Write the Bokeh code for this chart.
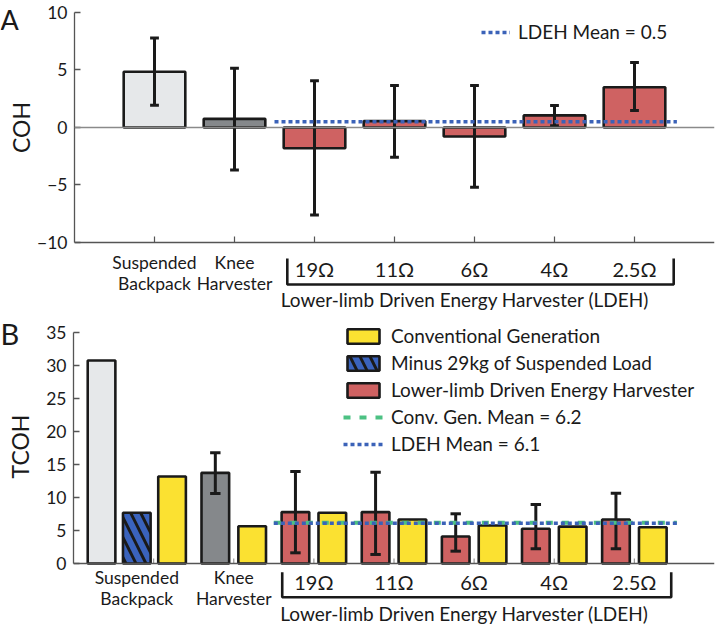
import numpy as np
from bokeh.plotting import figure
from bokeh.layouts import column, row
from bokeh.models import Range1d, FixedTicker, Legend, LegendItem, Span
from bokeh.core.properties import value
from bokeh.embed import file_html
from bokeh.resources import INLINE

# ---------------------------------------------------------------- data
categories = ["Suspended Backpack", "Knee Harvester", "19Ω", "11Ω", "6Ω", "4Ω", "2.5Ω"]
cat_line1 = ["Suspended", "Knee"]
cat_line2 = ["Backpack", "Harvester"]
resistances = ["19Ω", "11Ω", "6Ω", "4Ω", "2.5Ω"]
group_label = "Lower-limb Driven Energy Harvester (LDEH)"

# Panel A: cost of harvesting (COH), mean with error-bar ends
coh_mean = [4.85, 0.75, -1.8, 0.55, -0.78, 1.05, 3.5]
coh_err_lo = [1.94, -3.7, -7.6, -2.58, -5.19, 0.15, 1.48]
coh_err_hi = [7.77, 5.16, 4.06, 3.65, 3.65, 1.91, 5.65]
coh_ldeh_mean = 0.5

# Panel B: total cost of harvesting (TCOH)
tcoh_backpack = 30.8
tcoh_backpack_minus29 = 7.7
tcoh_backpack_conv = 13.2
tcoh_knee = 13.75
tcoh_knee_err = [10.6, 16.8]
tcoh_knee_conv = 5.66
tcoh_ldeh = [7.8, 7.8, 4.1, 5.26, 6.68]
tcoh_ldeh_err_lo = [1.62, 1.37, 1.87, 2.23, 2.23]
tcoh_ldeh_err_hi = [13.96, 13.85, 7.54, 8.95, 10.67]
tcoh_ldeh_conv = [7.7, 6.68, 5.77, 5.6, 5.5]
tcoh_conv_mean = 6.2
tcoh_ldeh_mean = 6.1

# ---------------------------------------------------------------- style
FONT = "Lato"
LIGHT = "#e6e8ea"
GRAY = "#85888b"
RED = "#cf6262"
YELLOW = "#fbe131"
BLUE = "#3a63bd"
GREEN = "#4cc183"
DOT_BLUE = "#3b62b8"
AXIS = "#555555"
INK = "#1a1a1a"

W = 727
SIDE_W = 34            # strip holding the panel letter and the axis title
LEFT, RIGHT = 39, 13   # borders of the plotting figures
H_A, H_B = 311, 314

cat_x = np.arange(1, len(categories) + 1, dtype=float)
ldeh_x = cat_x[2:]
MEAN_SPAN = (2.5, 7.53)
BRACKET_A = (2.66, 7.49, -11.4, -13.65)
BRACKET_B = (2.605, 7.46, -1.32, -5.11)


def side_strip(h, letter, letter_y, letter_size, title, title_x, title_y):
    s = figure(width=SIDE_W, height=h, x_range=Range1d(0, SIDE_W), y_range=Range1d(0, h),
               output_backend="svg", toolbar_location=None,
               x_axis_location=None, y_axis_location=None,
               min_border_left=0, min_border_right=0, min_border_top=0, min_border_bottom=0)
    s.outline_line_color = None
    s.grid.visible = False
    s.text(x=[0], y=[h - letter_y], text=[letter], text_font=value(FONT),
           text_font_size=letter_size, text_align="left", text_baseline="alphabetic",
           text_color=INK)
    s.text(x=[title_x], y=[h - title_y], text=[title], text_font=value(FONT),
           text_font_size="23px", text_align="center", text_baseline="middle",
           text_line_height=1.0, angle=np.pi / 2, text_color=INK)
    return s


def make_fig(h, y0, y1, ticks):
    p = figure(width=W - SIDE_W, height=h, x_range=Range1d(0, 8), y_range=Range1d(y0, y1),
               output_backend="svg", toolbar_location=None, x_axis_location=None,
               min_border_left=LEFT, min_border_right=RIGHT,
               min_border_top=0, min_border_bottom=0)
    p.outline_line_color = None
    p.grid.visible = False
    ax = p.yaxis[0]
    ax.ticker = FixedTicker(ticks=ticks)
    ax.bounds = (min(ticks), max(ticks))
    ax.major_label_overrides = {t: ("\u2212%d" % -t if t < 0 else str(t)) for t in ticks}
    ax.major_tick_in = 6
    ax.major_tick_out = 0
    ax.minor_tick_line_color = None
    ax.axis_line_color = AXIS
    ax.axis_line_width = 1.3
    ax.major_tick_line_color = AXIS
    ax.major_tick_line_width = 1.3
    ax.major_label_standoff = 7
    ax.major_label_text_font = FONT
    ax.major_label_text_font_size = "17.5px"
    ax.major_label_text_color = INK
    return p


def text(p, x, y, t, size):
    p.text(x=x, y=y, text=t, text_font=value(FONT), text_font_size=size,
           text_align="center", text_baseline="middle", text_color=INK)


def error_bars(p, x, lo, hi, cap):
    x = np.asarray(x, dtype=float)
    p.segment(x0=x, y0=lo, x1=x, y1=hi, line_color=INK, line_width=3)
    p.segment(x0=x - cap, y0=lo, x1=x + cap, y1=lo, line_color=INK, line_width=3)
    p.segment(x0=x - cap, y0=hi, x1=x + cap, y1=hi, line_color=INK, line_width=3)


def bracket(p, b):
    xa, xb, ytop, ybot = b
    p.line(x=[xa, xa, xb, xb], y=[ytop, ybot, ybot, ytop], line_color=INK, line_width=2.6)


def legend_style(leg, gw, gh):
    leg.border_line_color = None
    leg.background_fill_alpha = 0
    leg.padding = 0
    leg.margin = 0
    leg.spacing = 4
    leg.glyph_width = gw
    leg.glyph_height = gh
    leg.label_height = 20
    leg.label_standoff = 8
    leg.label_text_font = FONT
    leg.label_text_font_size = "19px"
    leg.label_text_color = INK
    leg.label_text_baseline = "middle"


# ---------------------------------------------------------------- panel A
pa = make_fig(H_A, -16.0, 11.04, [-10, -5, 0, 5, 10])
pa.add_layout(Span(location=0, dimension="width", line_color="#8a8a8a", line_width=1.3))
pa.add_layout(Span(location=-10, dimension="width", line_color=AXIS, line_width=1.3))
pa.ray(x=cat_x, y=-10, length=6, length_units="screen", angle=np.pi / 2,
       line_color=AXIS, line_width=1.2)

colors_a = [LIGHT, GRAY] + [RED] * len(resistances)
pa.vbar(x=cat_x, top=coh_mean, bottom=0, width=0.77, fill_color=colors_a,
        line_color=INK, line_width=2.6)
error_bars(pa, cat_x, coh_err_lo, coh_err_hi, 0.055)
mean_a = pa.line(x=list(MEAN_SPAN), y=[coh_ldeh_mean] * 2, line_color=DOT_BLUE,
                 line_width=3.5, line_dash="4 3")

text(pa, cat_x[:2], [-11.75] * 2, cat_line1, "17.5px")
text(pa, cat_x[:2], [-13.6] * 2, cat_line2, "17.5px")
text(pa, ldeh_x, [-12.3] * len(resistances), resistances, "20px")
text(pa, [4.88], [-14.98], [group_label], "19px")
bracket(pa, BRACKET_A)

leg_a = Legend(items=[LegendItem(label="LDEH Mean = %g" % coh_ldeh_mean, renderers=[mean_a])],
               location=(407, 268))
legend_style(leg_a, 29, 18)
pa.add_layout(leg_a)

sa = side_strip(H_A, "A", 19, "27px", "COH", 20, 127)

# ---------------------------------------------------------------- panel B
pb = make_fig(H_B, -9.407, 38.23, list(range(0, 36, 5)))
pb.add_layout(Span(location=0, dimension="width", line_color=AXIS, line_width=1.3))
pb.ray(x=cat_x, y=0, length=5, length_units="screen", angle=np.pi / 2,
       line_color="#999999", line_width=1.2)

SUSP_X = 0.79
SUSP_OFF = 0.44
PAIR_OFF = 0.23
BW = 0.345

r_light = pb.vbar(x=[SUSP_X - SUSP_OFF], top=[tcoh_backpack], width=BW,
                  fill_color=LIGHT, line_color=INK, line_width=2.6)
r_blue = pb.vbar(x=[SUSP_X], top=[tcoh_backpack_minus29], width=BW,
                 fill_color=BLUE, line_color=INK, line_width=2.6,
                 hatch_pattern="left_diagonal_line", hatch_color=INK,
                 hatch_weight=3, hatch_scale=20)
conv_x = [SUSP_X + SUSP_OFF, 2 + PAIR_OFF] + list(ldeh_x + PAIR_OFF)
conv_top = [tcoh_backpack_conv, tcoh_knee_conv] + tcoh_ldeh_conv
r_yellow = pb.vbar(x=conv_x, top=conv_top, width=BW, fill_color=YELLOW,
                   line_color=INK, line_width=2.6)
r_gray = pb.vbar(x=[2 - PAIR_OFF], top=[tcoh_knee], width=BW, fill_color=GRAY,
                 line_color=INK, line_width=2.6)
r_red = pb.vbar(x=ldeh_x - PAIR_OFF, top=tcoh_ldeh, width=BW, fill_color=RED,
                line_color=INK, line_width=2.6)

error_bars(pb, [2 - PAIR_OFF], [tcoh_knee_err[0]], [tcoh_knee_err[1]], 0.065)
error_bars(pb, ldeh_x - PAIR_OFF, tcoh_ldeh_err_lo, tcoh_ldeh_err_hi, 0.065)

mean_conv = pb.line(x=list(MEAN_SPAN), y=[tcoh_conv_mean] * 2, line_color=GREEN,
                    line_width=4, line_dash="7 9")
mean_ldeh = pb.line(x=list(MEAN_SPAN), y=[tcoh_ldeh_mean] * 2, line_color=DOT_BLUE,
                    line_width=3.5, line_dash="4 3")

text(pb, [SUSP_X, 2], [-2.1] * 2, cat_line1, "17.5px")
text(pb, [SUSP_X, 2], [-5.35] * 2, cat_line2, "17.5px")
text(pb, ldeh_x, [-2.85] * len(resistances), resistances, "20px")
text(pb, [4.88], [-7.55], [group_label], "19px")
bracket(pb, BRACKET_B)

leg_b = Legend(items=[
    LegendItem(label="Conventional Generation", renderers=[r_yellow]),
    LegendItem(label="Minus 29kg of Suspended Load", renderers=[r_blue]),
    LegendItem(label="Lower-limb Driven Energy Harvester", renderers=[r_red]),
    LegendItem(label="Conv. Gen. Mean = %g" % tcoh_conv_mean, renderers=[mean_conv]),
    LegendItem(label="LDEH Mean = %g" % tcoh_ldeh_mean, renderers=[mean_ldeh]),
], location=(270, 170))
legend_style(leg_b, 40, 18)
pb.add_layout(leg_b)

sb = side_strip(H_B, "B", 22, "29px", "TCOH", 19, 135)

layout = column(row(sa, pa, spacing=0), row(sb, pb, spacing=0), spacing=0)
open("out.html", "w").write(file_html(layout, INLINE))
